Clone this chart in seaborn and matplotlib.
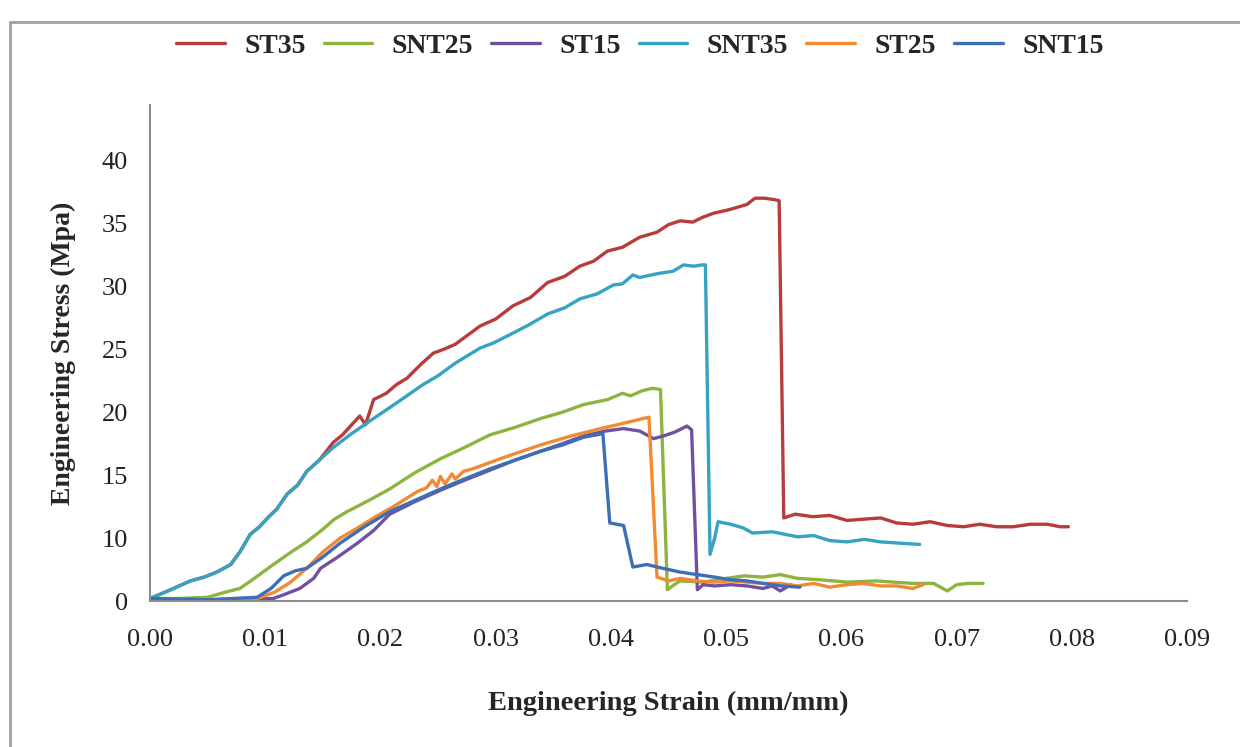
import seaborn as sns
import matplotlib.pyplot as plt
from matplotlib.lines import Line2D
import pandas as pd

# strain / stress points
st35_x = [0, 0.0018, 0.0035, 0.0047, 0.0058, 0.0070, 0.0078, 0.0087, 0.0095, 0.0102,
          0.0110, 0.0119, 0.0128, 0.0136, 0.0147, 0.0159, 0.0167, 0.0174, 0.0182, 0.0187,
          0.0194, 0.0205, 0.0214, 0.0223, 0.0235, 0.0246, 0.0255, 0.0265, 0.02865, 0.0300,
          0.0315, 0.0330, 0.0345, 0.0360, 0.0373, 0.0385, 0.0397, 0.0410, 0.0425, 0.0440,
          0.0450, 0.0460, 0.0471, 0.0480, 0.0489, 0.0503, 0.0518, 0.0525, 0.0533, 0.0541,
          0.0546, 0.0550, 0.0560, 0.0575, 0.0590, 0.0605, 0.0619, 0.0634, 0.0648, 0.0662,
          0.0677, 0.0692, 0.0706, 0.0720, 0.0735, 0.0749, 0.0764, 0.0779, 0.0790, 0.0797]
st35_y = [5.2, 5.9, 6.6, 6.9, 7.3, 7.9, 8.9, 10.3, 10.9, 11.6,
          12.3, 13.5, 14.2, 15.3, 16.2, 17.6, 18.2, 18.9, 19.7, 19.0,
          21.0, 21.5, 22.2, 22.7, 23.8, 24.7, 25.0, 25.4, 26.85, 27.4,
          28.45, 29.1, 30.3, 30.8, 31.6, 32.0, 32.8, 33.1, 33.9, 34.3,
          34.9, 35.2, 35.1, 35.5, 35.8, 36.1, 36.5, 37.0, 37.0, 36.9,
          36.8, 11.6, 11.9, 11.7, 11.8, 11.4, 11.5, 11.6, 11.2, 11.1,
          11.3, 11.0, 10.9, 11.1, 10.9, 10.9, 11.1, 11.1, 10.9, 10.9]

snt25_x = [0, 0.0025, 0.0050, 0.0065, 0.0078, 0.0092, 0.0107, 0.0121, 0.0136, 0.0150,
           0.0160, 0.0171, 0.0190, 0.0208, 0.0230, 0.0252, 0.0273, 0.0295, 0.0317, 0.0339,
           0.0358, 0.0376, 0.0397, 0.0410, 0.0417, 0.0427, 0.0436, 0.0443, 0.0449, 0.0455,
           0.0460, 0.0480, 0.0500, 0.0516, 0.0532, 0.0547, 0.0562, 0.0580, 0.0605, 0.0630,
           0.0662, 0.0680, 0.0692, 0.0700, 0.0710, 0.0723]
snt25_y = [5.2, 5.2, 5.3, 5.7, 6.0, 6.9, 7.9, 8.8, 9.7, 10.7,
           11.5, 12.1, 13.0, 13.9, 15.2, 16.3, 17.2, 18.2, 18.8, 19.5,
           20.0, 20.6, 21.0, 21.5, 21.3, 21.7, 21.9, 21.8, 5.9, 6.3,
           6.6, 6.5, 6.8, 7.0, 6.9, 7.1, 6.8, 6.7, 6.5, 6.6,
           6.4, 6.4, 5.8, 6.3, 6.4, 6.4]

st15_x = [0, 0.0050, 0.0107, 0.0116, 0.0130, 0.0142, 0.0148, 0.0163, 0.0180, 0.0194,
          0.0208, 0.0230, 0.0252, 0.0273, 0.0295, 0.0317, 0.0339, 0.0358, 0.0376, 0.0395,
          0.0411, 0.0425, 0.0437, 0.0445, 0.0455, 0.0466, 0.0470, 0.0475, 0.0480, 0.0490,
          0.0504, 0.0518, 0.0532, 0.0540, 0.0547, 0.0556]
st15_y = [5.2, 5.1, 5.2, 5.5, 6.0, 6.8, 7.6, 8.5, 9.6, 10.6,
          11.9, 12.9, 13.8, 14.6, 15.4, 16.2, 16.9, 17.5, 18.1, 18.5,
          18.7, 18.5, 17.9, 18.1, 18.4, 18.9, 18.6, 5.9, 6.3, 6.2,
          6.3, 6.2, 6.0, 6.2, 5.8, 6.3]

snt35_x = [0, 0.0018, 0.0035, 0.0047, 0.0058, 0.0070, 0.0078, 0.0087, 0.0095, 0.0102,
           0.0110, 0.0119, 0.0128, 0.0136, 0.0147, 0.0159, 0.0175, 0.0194, 0.0215, 0.0237,
           0.0250, 0.0265, 0.02865, 0.0298, 0.0310, 0.0328, 0.0345, 0.0360, 0.0373, 0.0388,
           0.0402, 0.0410, 0.0419, 0.0425, 0.0440, 0.0454, 0.0463, 0.0472, 0.0479, 0.0482,
           0.0486, 0.0490, 0.0493, 0.0504, 0.0515, 0.0523, 0.0540, 0.0562, 0.0576, 0.0590,
           0.0605, 0.0620, 0.0634, 0.0650, 0.0668]
snt35_y = [5.2, 5.9, 6.6, 6.9, 7.3, 7.9, 8.9, 10.3, 10.9, 11.6,
           12.3, 13.5, 14.2, 15.3, 16.2, 17.2, 18.3, 19.5, 20.8, 22.2,
           22.9, 23.9, 25.1, 25.5, 26.05, 26.9, 27.8, 28.3, 29.0, 29.4,
           30.1, 30.2, 30.9, 30.7, 31.0, 31.2, 31.7, 31.6, 31.7, 31.7,
           8.7, 10.0, 11.3, 11.1, 10.8, 10.4, 10.5, 10.1, 10.2, 9.8,
           9.7, 9.9, 9.7, 9.6, 9.5]

st25_x = [0, 0.0050, 0.0093, 0.0108, 0.0122, 0.0136, 0.0150, 0.0165, 0.0180, 0.0194,
          0.0213, 0.0232, 0.0240, 0.0245, 0.0249, 0.0252, 0.0256, 0.0262, 0.0265, 0.0272,
          0.0280, 0.0310, 0.0339, 0.0365, 0.0391, 0.0410, 0.0428, 0.0433, 0.0440, 0.0450,
          0.0460, 0.0475, 0.0489, 0.0504, 0.0518, 0.0532, 0.0547, 0.0562, 0.0576, 0.0590,
          0.0605, 0.0619, 0.0634, 0.0648, 0.0662, 0.0671]
st25_y = [5.2, 5.1, 5.2, 5.7, 6.5, 7.6, 8.9, 10.0, 10.8, 11.6,
          12.6, 13.7, 14.0, 14.6, 14.1, 14.9, 14.3, 15.1, 14.7, 15.3,
          15.5, 16.5, 17.4, 18.1, 18.7, 19.1, 19.5, 19.6, 6.9, 6.6,
          6.8, 6.6, 6.5, 6.6, 6.5, 6.4, 6.4, 6.2, 6.4, 6.1,
          6.3, 6.4, 6.2, 6.2, 6.0, 6.3]

snt15_x = [0, 0.0050, 0.0093, 0.0105, 0.0116, 0.0126, 0.0136, 0.0150, 0.0165, 0.0186,
           0.0208, 0.0230, 0.0252, 0.0273, 0.0295, 0.0317, 0.0339, 0.0358, 0.0376, 0.0393,
           0.0399, 0.0405, 0.0411, 0.0419, 0.0431, 0.0445, 0.0460, 0.0475, 0.0490, 0.0503,
           0.0518, 0.0532, 0.0548, 0.0564]
snt15_y = [5.2, 5.1, 5.3, 6.0, 7.0, 7.4, 7.6, 8.5, 9.6, 10.9,
           12.1, 13.0, 13.9, 14.7, 15.5, 16.2, 16.9, 17.4, 18.0, 18.3,
           11.2, 11.1, 11.0, 7.7, 7.9, 7.6, 7.3, 7.1, 6.9, 6.7,
           6.6, 6.4, 6.2, 6.1]

labels = ['ST35', 'SNT25', 'ST15', 'SNT35', 'ST25', 'SNT15']
colors = ['#B83C3A', '#8DB440', '#7150A0', '#36A3C2', '#F28A32', '#3D6FB6']

xticks = [0, 0.01, 0.02, 0.03, 0.04, 0.05, 0.06, 0.07, 0.08, 0.09]
yticks = [5, 10, 15, 20, 25, 30, 35, 40]
ytick_labels = ['0', '10', '15', '20', '25', '30', '35', '40']

series = [(st35_x, st35_y), (snt25_x, snt25_y), (st15_x, st15_y),
          (snt35_x, snt35_y), (st25_x, st25_y), (snt15_x, snt15_y)]
rows = []
for name, (xs, ys) in zip(labels, series):
    for a, b in zip(xs, ys):
        rows.append({'Sample': name, 'Strain': a, 'Stress': b})
df = pd.DataFrame(rows)

sns.set_style('white')
plt.rcParams['font.family'] = ['Liberation Serif', 'DejaVu Serif']

fig = plt.figure(figsize=(12.4, 7.47), dpi=100)
ax = fig.add_axes([0.121, 0.1954, 0.8363, 0.664])

sns.lineplot(data=df, x='Strain', y='Stress', hue='Sample', hue_order=labels,
             palette=colors, sort=False, estimator=None, units='Sample',
             linewidth=2.4, legend=False, ax=ax)

ax.set_xlim(0, 0.09)
ax.set_ylim(5, 44.4)
ax.set_xticks(xticks)
ax.set_xticklabels([f'{t:.2f}' for t in xticks])
ax.set_yticks(yticks)
ax.set_yticklabels(ytick_labels)

for s in ['top', 'right']:
    ax.spines[s].set_visible(False)
for s in ['left', 'bottom']:
    ax.spines[s].set_color('#8c8c8c')
    ax.spines[s].set_linewidth(1.5)
ax.tick_params(axis='both', direction='out', length=6, width=1.2, color='#8c8c8c',
               labelsize=19, labelcolor='#222222')
ax.tick_params(axis='x', pad=14)
ax.tick_params(axis='y', pad=10)

ax.set_xlabel('Engineering Strain (mm/mm)', fontsize=20.5, fontweight='bold', labelpad=29)
ax.set_ylabel('Engineering Stress (Mpa)', fontsize=20, fontweight='bold', labelpad=18)

handles = [Line2D([0], [0], color=c, lw=2.4) for c in colors]
fig.legend(handles, labels, loc='center', bbox_to_anchor=(0.516, 0.938), ncol=6,
           frameon=False, handlelength=1.75, handletextpad=0.7, columnspacing=0.65,
           prop={'weight': 'bold', 'size': 20})

# light frame round the chart area
fig.add_artist(Line2D([0.008, 0.008], [0, 0.971], color='#a0a0a0', lw=2))
fig.add_artist(Line2D([0.008, 1], [0.971, 0.971], color='#a0a0a0', lw=2))

plt.savefig('out.png', dpi=100)
